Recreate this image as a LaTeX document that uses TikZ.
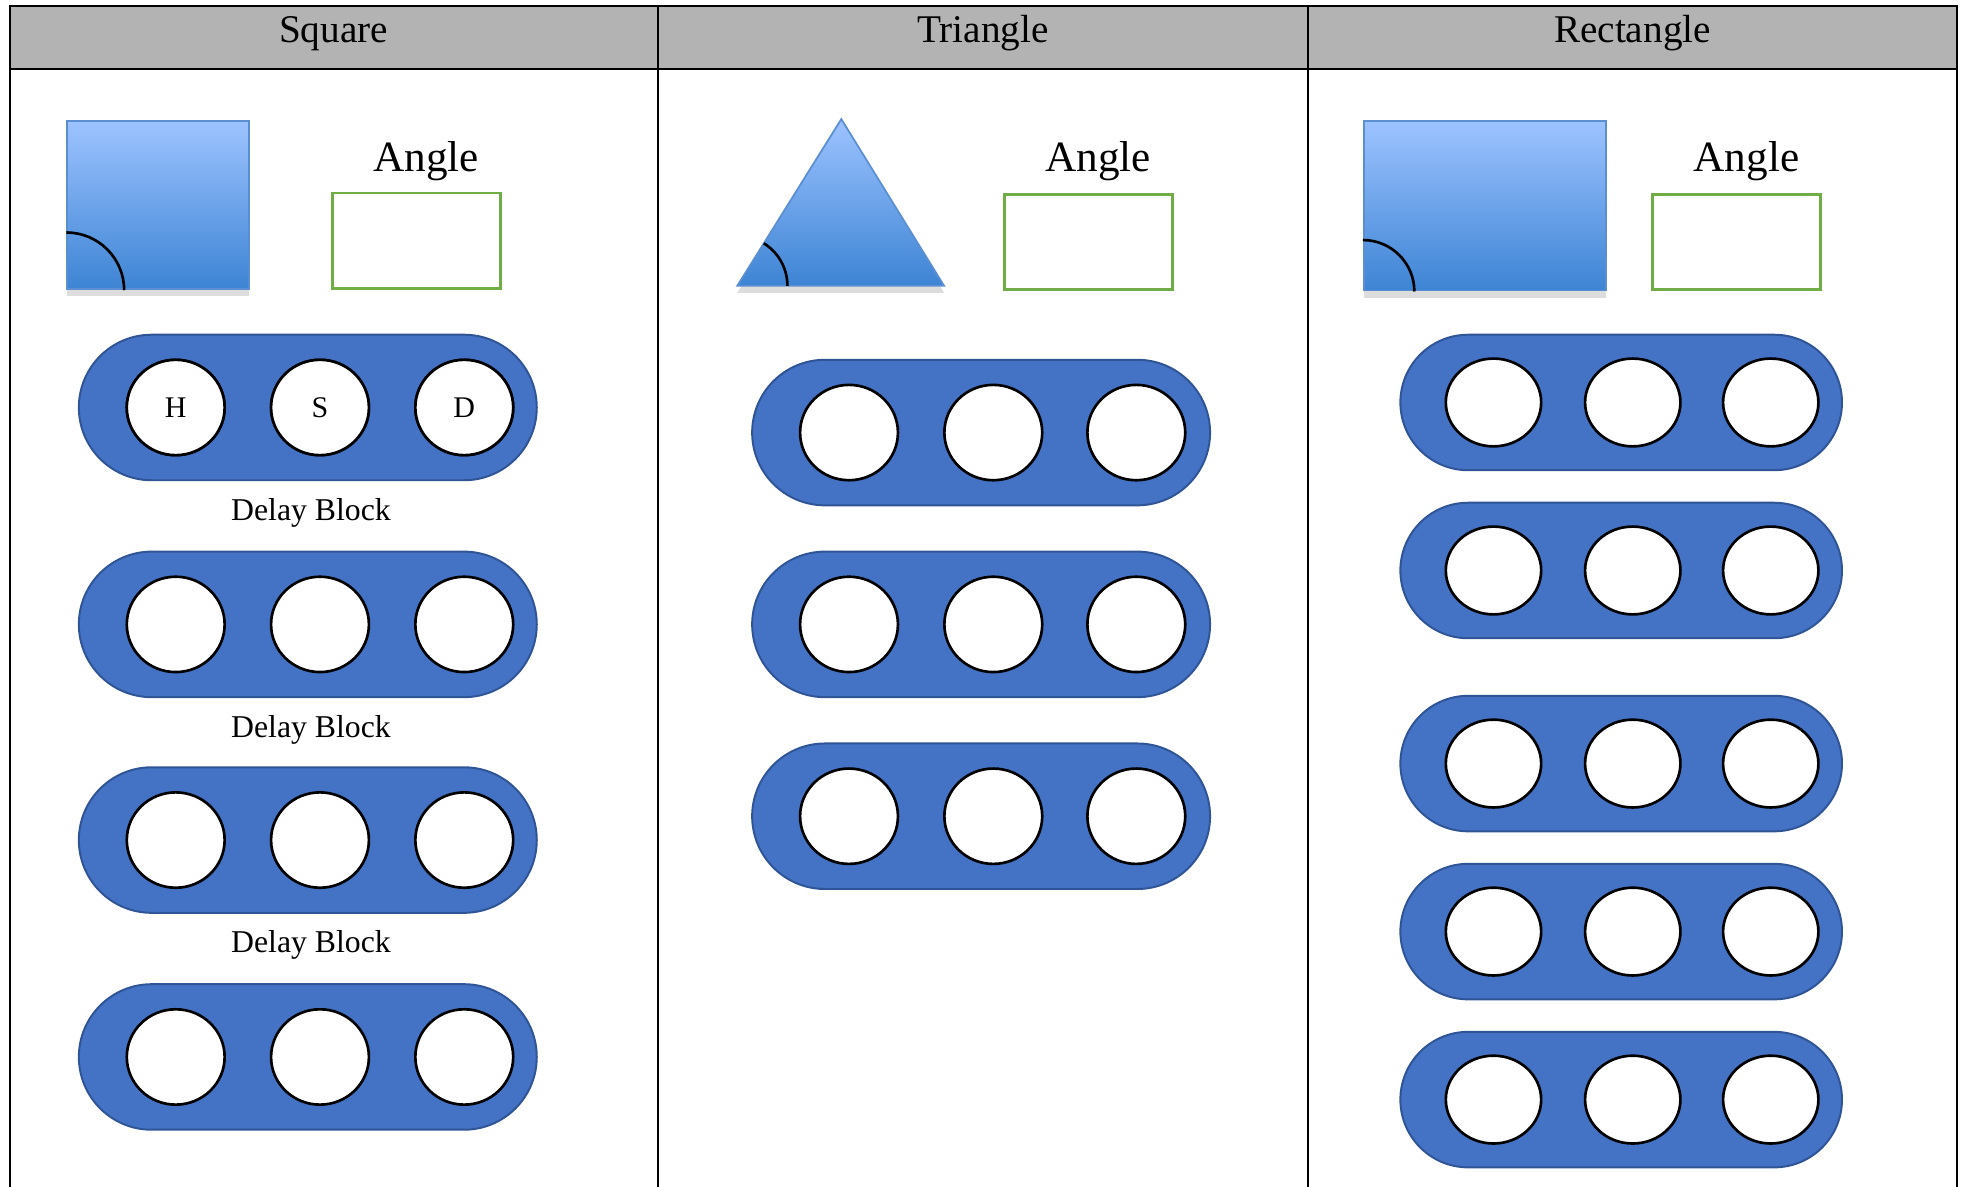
\documentclass[tikz,border=0pt]{standalone}
\usepackage{fontspec}
\setmainfont{Liberation Serif}
\usepackage{xcolor}
\usepackage{tikz}
\usetikzlibrary{positioning,shapes.geometric,shadows}

\definecolor{capblue}{HTML}{4472C4}
\definecolor{capedge}{HTML}{2F5597}
\definecolor{gradtop}{HTML}{9DC3FF}
\definecolor{gradbot}{HTML}{3D84D4}
\definecolor{shapeedge}{HTML}{5B8FD2}
\definecolor{anglegreen}{HTML}{70AD47}
\definecolor{headgray}{HTML}{B3B3B3}

\tikzset{
  capsule/.style={draw=capedge, line width=0.45pt, fill=capblue, rounded corners=0.58cm,
    minimum width=3.65cm, minimum height=1.16cm, inner sep=0pt},
  widecapsule/.style={capsule, rounded corners=0.54cm, minimum width=3.52cm, minimum height=1.08cm},
  hole/.style={ellipse, draw=black, line width=0.6pt, fill=white, inner sep=0pt,
    minimum width=0.78cm, minimum height=0.76cm, font=\fontsize{6.8}{8}\selectfont},
  flathole/.style={hole, minimum width=0.76cm, minimum height=0.70cm},
  shapebox/.style={draw=shapeedge, line width=0.4pt, top color=gradtop, bottom color=gradbot,
    drop shadow={shadow xshift=0pt, shadow yshift=-1.6pt, opacity=0.22, fill=black!60}},
  anglearc/.style={draw=black, line width=0.6pt},
  anglebox/.style={draw=anglegreen, line width=0.6pt, fill=white, inner sep=0pt,
    minimum width=1.34cm, minimum height=0.76cm},
  anglelabel/.style={font=\fontsize{9.8}{12}\selectfont, anchor=base, inner sep=0pt},
  headlabel/.style={font=\fontsize{8.9}{10}\selectfont, anchor=base, inner sep=0pt},
  delaylabel/.style={font=\fontsize{7.2}{8}\selectfont},
  tableline/.style={draw=black, line width=0.4pt}
}

\begin{document}
\begin{tikzpicture}[x=0.01cm, y=-0.01cm]

    \useasboundingbox (0,0) rectangle (1568,946);

    % table frame and header
    \fill[headgray] (8,5) rectangle (1561,55);
    \draw[tableline] (8,950) -- (8,5) -- (1561,5) -- (1561,950);
    \draw[tableline, line width=0.6pt] (8,55) -- (1561,55);
    \draw[tableline] (525,5) -- (525,950);
    \draw[tableline] (1043,5) -- (1043,950);

    \node[headlabel] (h_square)   at (266,34)  {Square};
    \node[headlabel] (h_triangle) at (784,34)  {Triangle};
    \node[headlabel] (h_rect)     at (1302,34) {Rectangle};

    % shapes with their angle mark
    \node[shapebox, minimum width=1.45cm, minimum height=1.34cm, anchor=north west] (sq) at (53,96) {};
    \draw[anglearc] ([xshift=0.46cm]sq.south west) arc (0:90:0.46cm);

    \coordinate (tri_l) at (588,228);
    \coordinate (tri_t) at (671,95);
    \coordinate (tri_r) at (753,228);
    \draw[shapebox] (tri_l) -- (tri_t) -- (tri_r) -- cycle;
    \draw[anglearc] ([xshift=0.40cm]tri_l) arc (0:58:0.40cm);

    \node[shapebox, minimum width=1.93cm, minimum height=1.35cm, anchor=north west] (rect) at (1087,96) {};
    \draw[anglearc] ([xshift=0.41cm]rect.south west) arc (0:90:0.41cm);

    % angle boxes
    \node[anglebox, anchor=north west] (box_sq)   at (264,153)  {};
    \node[anglebox, anchor=north west] (box_tri)  at (800,154)  {};
    \node[anglebox, anchor=north west] (box_rect) at (1317,154) {};
    \node[anglelabel] (ang_sq)   at (340,137)  {Angle};
    \node[anglelabel] (ang_tri)  at (876,137)  {Angle};
    \node[anglelabel] (ang_rect) at (1393,137) {Angle};

    % square column blocks
    \foreach \n/\y in {1/325, 2/498, 3/670, 4/843} {
      \node[capsule] (sqcap\n) at (245.5,\y) {};
      \foreach \k/\dx in {1/0.78, 2/1.93, 3/3.08}
        \node[hole] (sqcap\n-\k) at ([xshift=\dx cm]sqcap\n.west) {};
    }
    \node[hole] at (sqcap1-1) {H};
    \node[hole] at (sqcap1-2) {S};
    \node[hole] at (sqcap1-3) {D};
    \foreach \n in {1,2,3}
      \node[delaylabel, below=0.01cm of sqcap\n, xshift=0.025cm] (delay\n) {Delay Block};

    % triangle column blocks
    \foreach \n/\y in {1/345, 2/498, 3/651} {
      \node[capsule] (tricap\n) at (782.5,\y) {};
      \foreach \k/\dx in {1/0.78, 2/1.93, 3/3.07}
        \node[hole] (tricap\n-\k) at ([xshift=\dx cm]tricap\n.west) {};
    }

    % rectangle column blocks
    \foreach \n/\y in {1/321, 2/455, 3/609, 4/743, 5/877} {
      \node[widecapsule] (rectcap\n) at (1293,\y) {};
      \foreach \k/\dx in {1/0.75, 2/1.86, 3/2.96}
        \node[flathole] (rectcap\n-\k) at ([xshift=\dx cm]rectcap\n.west) {};
    }

\end{tikzpicture}
\end{document}
